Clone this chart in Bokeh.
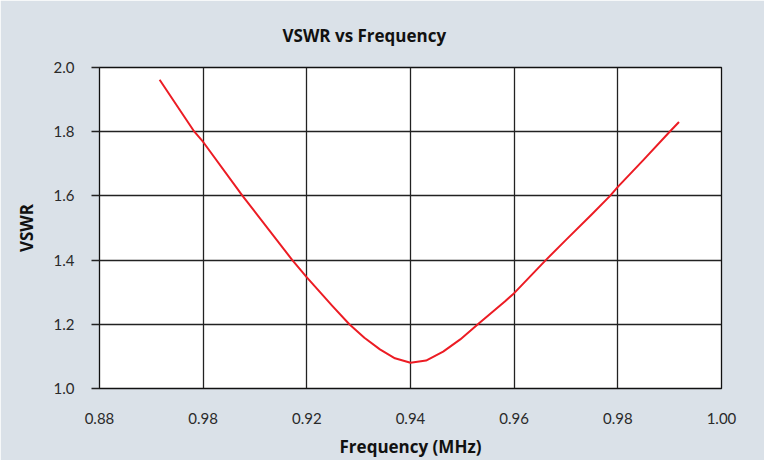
from bokeh.plotting import figure
from bokeh.models import FixedTicker, Range1d
from bokeh.embed import file_html
from bokeh.resources import INLINE

# Data
freq = [0.8916, 0.8983, 0.900, 0.9076, 0.9172, 0.920, 0.925, 0.9282, 0.9311,
        0.9341, 0.9370, 0.940, 0.9430, 0.9463, 0.9496, 0.9530, 0.9582, 0.960,
        0.9661, 0.970, 0.975, 0.9785, 0.980, 0.985, 0.990, 0.9918]
vswr = [1.962, 1.800, 1.768, 1.600, 1.400, 1.346, 1.256, 1.200, 1.158,
        1.122, 1.094, 1.080, 1.087, 1.115, 1.153, 1.200, 1.271, 1.297,
        1.400, 1.463, 1.543, 1.600, 1.628, 1.713, 1.800, 1.830]

x_ticks = [0.88, 0.90, 0.92, 0.94, 0.96, 0.98, 1.00]
x_tick_labels = ["0.88", "0.98", "0.92", "0.94", "0.96", "0.98", "1.00"]
y_ticks = [1.0, 1.2, 1.4, 1.6, 1.8, 2.0]
y_tick_labels = ["1.0", "1.2", "1.4", "1.6", "1.8", "2.0"]

BG = "#dae1e8"
BOLD_FONT = "Open Sans"
TICK_FONT = "Lato"

p = figure(width=764, height=460, output_backend="svg", toolbar_location=None,
           x_range=Range1d(0.88, 1.00), y_range=Range1d(1.0, 2.0),
           min_border_left=99, min_border_right=43, min_border_top=67, min_border_bottom=70,
           background_fill_color="white", border_fill_color=BG,
           outline_line_color="#111111", outline_line_width=1.3)

p.title.text = "VSWR vs Frequency"
p.title.align = "left"
p.title.offset = 183
p.title.standoff = 42
p.title.text_font = BOLD_FONT
p.title.text_font_style = "bold"
p.title.text_font_size = "17px"
p.title.text_color = "#111111"

p.line(freq, vswr, line_color="#ec1c24", line_width=2, line_join="round")

# axes
p.xaxis.ticker = FixedTicker(ticks=x_ticks)
p.xaxis.major_label_overrides = {t: l for t, l in zip(x_ticks, x_tick_labels)}
p.yaxis.ticker = FixedTicker(ticks=y_ticks)
p.yaxis.major_label_overrides = {t: l for t, l in zip(y_ticks, y_tick_labels)}

for ax in (p.xaxis, p.yaxis):
    ax.axis_line_color = None
    ax.minor_tick_line_color = None
    ax.major_label_text_font = TICK_FONT
    ax.major_label_text_font_size = "15px"
    ax.major_label_text_color = "#2a2a2a"
    ax.axis_label_text_font = BOLD_FONT
    ax.axis_label_text_font_style = "bold"
    ax.axis_label_text_font_size = "17px"
    ax.axis_label_text_color = "#111111"

p.xaxis.major_tick_line_color = None
p.xaxis.major_tick_out = 0
p.xaxis.major_tick_in = 0
p.xaxis.major_label_standoff = 24
p.xaxis.axis_label = "Frequency (MHz)"
p.xaxis.axis_label_standoff = 8

p.yaxis.major_tick_line_color = "#222222"
p.yaxis.major_tick_line_width = 1.3
p.yaxis.major_tick_out = 8
p.yaxis.major_tick_in = 0
p.yaxis.major_label_standoff = 17
p.yaxis.axis_label = "VSWR"
p.yaxis.axis_label_standoff = 13

p.xgrid.ticker = FixedTicker(ticks=x_ticks)
p.ygrid.ticker = FixedTicker(ticks=y_ticks)
for g in (p.xgrid, p.ygrid):
    g.grid_line_color = "#222222"
    g.grid_line_width = 1.3
    g.grid_line_alpha = 1.0

open("out.html", "w").write(file_html(p, INLINE))
